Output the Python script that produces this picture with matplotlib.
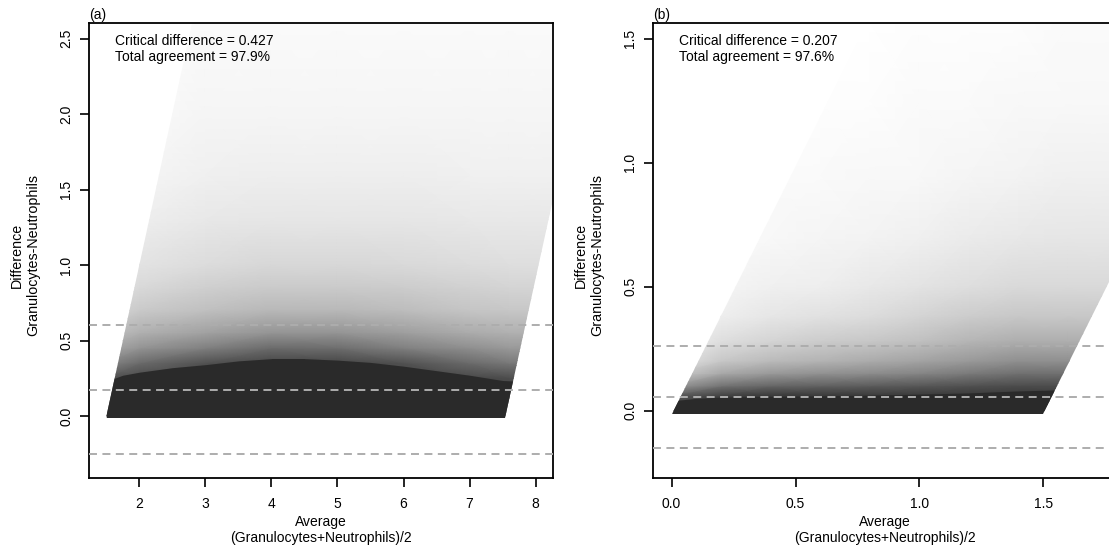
import numpy as np
import matplotlib.pyplot as plt
from matplotlib.patches import Polygon

plt.rcParams["font.family"] = ["Liberation Sans", "DejaVu Sans"]
plt.rcParams["font.size"] = 10

# --- panel (a) ---
a_xlim = (1.239, 8.262)
a_ylim = (-0.411, 2.604)
a_xticks = [2, 3, 4, 5, 6, 7, 8]
a_yticks = [0.0, 0.5, 1.0, 1.5, 2.0, 2.5]
a_bias = 0.174
a_cd = 0.427
a_agree = 97.9
a_base = (1.49, 7.54)  # average range of the points with difference 0
# top of the solid dark core of the cloud
a_core_x = [1.5, 1.75, 2.0, 2.5, 3.0, 3.5, 4.0, 4.5, 5.0, 5.5, 6.0, 6.5, 7.0, 7.5, 8.3]
a_core = [0.23, 0.27, 0.29, 0.32, 0.34, 0.365, 0.38, 0.38, 0.37, 0.355, 0.33, 0.30,
          0.27, 0.235, 0.22]
# grey level of the point cloud (0 black, 1 white)
a_x = [1.5, 2.0, 3.0, 4.0, 5.0, 6.0, 7.0, 7.6, 8.3]
a_y = [0.0, 0.25, 0.35, 0.45, 0.55, 0.7, 0.85, 1.0, 1.3, 1.6, 2.0, 2.6]
a_grey = [
    [0.25, 0.25, 0.25, 0.25, 0.25, 0.25, 0.25, 0.25, 0.25],
    [0.32, 0.28, 0.25, 0.25, 0.25, 0.25, 0.28, 0.30, 0.30],
    [0.52, 0.42, 0.32, 0.27, 0.27, 0.32, 0.42, 0.47, 0.47],
    [0.66, 0.58, 0.50, 0.42, 0.43, 0.50, 0.56, 0.60, 0.60],
    [0.75, 0.69, 0.63, 0.58, 0.58, 0.62, 0.67, 0.69, 0.69],
    [0.84, 0.79, 0.75, 0.72, 0.72, 0.74, 0.77, 0.78, 0.78],
    [0.89, 0.85, 0.81, 0.79, 0.79, 0.80, 0.82, 0.83, 0.83],
    [0.93, 0.89, 0.86, 0.84, 0.84, 0.85, 0.86, 0.87, 0.87],
    [0.96, 0.93, 0.91, 0.90, 0.90, 0.90, 0.91, 0.91, 0.91],
    [0.98, 0.96, 0.94, 0.93, 0.93, 0.93, 0.94, 0.94, 0.94],
    [0.99, 0.98, 0.96, 0.96, 0.96, 0.96, 0.96, 0.96, 0.96],
    [1.00, 0.99, 0.98, 0.98, 0.98, 0.98, 0.98, 0.98, 0.98],
]

# --- panel (b) ---
b_xlim = (-0.075, 1.797)
b_ylim = (-0.271, 1.563)
b_xticks = [0.0, 0.5, 1.0, 1.5]
b_yticks = [0.0, 0.5, 1.0, 1.5]
b_bias = 0.055
b_cd = 0.207
b_agree = 97.6
b_base = (0.0, 1.5)
b_core_x = [0.0, 0.1, 0.2, 0.4, 0.6, 0.8, 1.0, 1.2, 1.4, 1.6, 1.8]
b_core = [0.04, 0.05, 0.055, 0.058, 0.06, 0.063, 0.067, 0.072, 0.08, 0.085, 0.085]
b_x = [0.0, 0.2, 0.4, 0.6, 0.8, 1.0, 1.2, 1.4, 1.6, 1.8]
b_y = [0.0, 0.06, 0.1, 0.15, 0.2, 0.28, 0.38, 0.5, 0.7, 0.95, 1.25, 1.56]
b_grey = [
    [0.20, 0.20, 0.20, 0.20, 0.20, 0.20, 0.20, 0.20, 0.20, 0.20],
    [0.35, 0.25, 0.22, 0.22, 0.22, 0.22, 0.22, 0.22, 0.22, 0.22],
    [0.60, 0.45, 0.40, 0.38, 0.36, 0.34, 0.32, 0.30, 0.30, 0.30],
    [0.80, 0.66, 0.60, 0.57, 0.55, 0.52, 0.48, 0.44, 0.44, 0.44],
    [0.90, 0.78, 0.73, 0.70, 0.67, 0.64, 0.60, 0.56, 0.56, 0.56],
    [0.95, 0.87, 0.83, 0.80, 0.78, 0.75, 0.71, 0.68, 0.68, 0.68],
    [0.98, 0.93, 0.90, 0.88, 0.86, 0.83, 0.80, 0.78, 0.78, 0.78],
    [0.99, 0.96, 0.94, 0.93, 0.91, 0.89, 0.87, 0.85, 0.85, 0.85],
    [1.00, 0.98, 0.97, 0.96, 0.95, 0.94, 0.92, 0.91, 0.90, 0.90],
    [1.00, 0.99, 0.98, 0.98, 0.97, 0.97, 0.96, 0.95, 0.94, 0.94],
    [1.00, 1.00, 0.99, 0.99, 0.99, 0.98, 0.98, 0.97, 0.97, 0.97],
    [1.00, 1.00, 1.00, 1.00, 1.00, 0.99, 0.99, 0.99, 0.98, 0.98],
]

core_color = "#2a2a2a"
line_color = "#adadad"

ylabel = "Difference\nGranulocytes-Neutrophils"
xlabel = "Average\n(Granulocytes+Neutrophils)/2"


def draw_panel(ax, tag, xlim, ylim, xticks, yticks, xfmt, bias, cd, agree,
               base, core_x, core, xs, ys, grey):
    ax.set_xlim(xlim)
    ax.set_ylim(ylim)

    # cloud limited by difference >= 0 and the two slanted edges (slope 2)
    top = 4.0
    y0 = -0.012
    clip = Polygon([(base[0], y0), (base[1], y0),
                    (base[1] + (top - y0) / 2, top), (base[0] + (top - y0) / 2, top)],
                   closed=True, transform=ax.transData)
    X, Y = np.meshgrid(xs, ys)
    mesh = ax.pcolormesh(X, Y, np.array(grey), cmap="gray", vmin=0, vmax=1,
                         shading="gouraud", zorder=1)
    mesh.set_clip_path(clip)
    c = ax.fill_between(core_x, y0, core, color=core_color, lw=0, zorder=2)
    c.set_clip_path(clip)

    for v in [bias + cd, bias, bias - cd]:
        ax.axhline(v, color=line_color, lw=1.4, dashes=(4.1, 2.8), zorder=3)

    ax.set_xticks(xticks)
    ax.set_xticklabels([xfmt.format(v) for v in xticks])
    ax.set_yticks(yticks)
    ax.set_yticklabels([f"{v:.1f}" for v in yticks], rotation=90, va="center")
    ax.tick_params(length=6.5, width=1.2, labelsize=10)
    ax.tick_params(axis="x", pad=7)
    ax.tick_params(axis="y", pad=5)
    for s in ax.spines.values():
        s.set_linewidth(1.3)

    ax.text(0.0, 1.003, tag, transform=ax.transAxes, ha="left", va="bottom")
    ax.text(0.056, 0.960, f"Critical difference = {cd:.3f}", transform=ax.transAxes,
            ha="left", va="center")
    ax.text(0.056, 0.925, f"Total agreement = {agree:.1f}%", transform=ax.transAxes,
            ha="left", va="center")
    ax.text(0.5, -0.081, xlabel, transform=ax.transAxes, ha="center", va="top",
            linespacing=1.2)


fig = plt.figure(figsize=(11.09, 5.47), dpi=100)
ax1 = fig.add_axes([89 / 1109, 69 / 547, 464 / 1109, 455 / 547])
ax2 = fig.add_axes([653 / 1109, 69 / 547, 464 / 1109, 455 / 547])

draw_panel(ax1, "(a)", a_xlim, a_ylim, a_xticks, a_yticks, "{:d}", a_bias, a_cd,
           a_agree, a_base, a_core_x, a_core, a_x, a_y, a_grey)
draw_panel(ax2, "(b)", b_xlim, b_ylim, b_xticks, b_yticks, "{:.1f}", b_bias, b_cd,
           b_agree, b_base, b_core_x, b_core, b_x, b_y, b_grey)

fig.text(25 / 1109, 1 - 255 / 547, ylabel, rotation=90, ha="center", va="center",
         linespacing=1.25, fontsize=10.3)
fig.text(589 / 1109, 1 - 255 / 547, ylabel, rotation=90, ha="center", va="center",
         linespacing=1.25, fontsize=10.3)

fig.savefig("out.png", dpi=100)
